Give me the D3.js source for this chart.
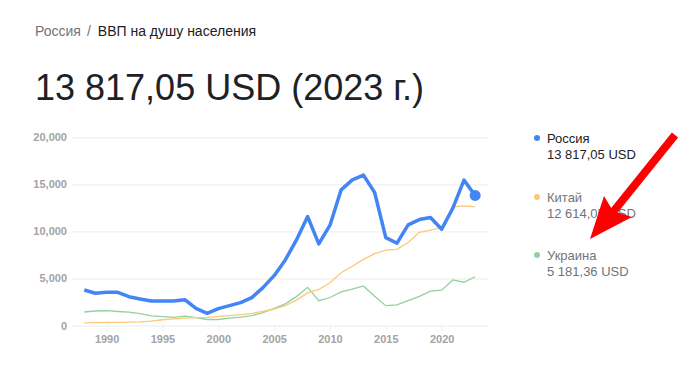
<!DOCTYPE html>
<html>
<head>
<meta charset="utf-8">
<script src="https://cdn.jsdelivr.net/npm/d3@7"></script>
<style>
  body { margin: 0; background: #fff; font-family: Arial, "Liberation Sans", sans-serif; }
  svg text { font-family: Arial, "Liberation Sans", sans-serif; }
</style>
</head>
<body>
<div id="chart"></div>
<script>
// years on the x axis
const years = d3.range(1988, 2024);

// ВВП на душу населения, USD
const russia = [3777, 3426, 3530, 3530, 3064, 2820, 2607, 2607, 2600, 2745,
  1830, 1298, 1788, 2107, 2426, 2958, 4021, 5298, 6968, 9096,
  11575, 8671, 10660, 14417, 15481, 15981, 14130, 9343, 8745, 10692,
  11258, 11471, 10234, 12470, 15448, 13817];
const china = [283, 310, 318, 333, 366, 377, 473, 609, 709, 781,
  828, 873, 959, 1053, 1149, 1289, 1509, 1753, 2099, 2694,
  3468, 3832, 4550, 5614, 6301, 7020, 7636, 8016, 8094, 8817,
  9905, 10144, 10409, 12618, 12720, 12614];
const ukraine = [1436, 1543, 1570, 1490, 1418, 1258, 1012, 936, 873, 993,
  835, 636, 636, 781, 880, 1049, 1367, 1829, 2303, 3069,
  4060, 2638, 2974, 3570, 3855, 4202, 3105, 2107, 2188, 2641,
  3097, 3662, 3751, 4840, 4596, 5181];

const yTicks = [0, 5000, 10000, 15000, 20000];
const xTicks = [1990, 1995, 2000, 2005, 2010, 2015, 2020];

const legendItems = [
  {name: "Россия", value: "13 817,05 USD", color: "#4285f4", text: "#202124"},
  {name: "Китай", value: "12 614,05 USD", color: "#fbc977", text: "#70757a"},
  {name: "Украина", value: "5 181,36 USD", color: "#93d0a0", text: "#70757a"}
];

const width = 693, height = 390;
const svg = d3.select("#chart").append("svg")
  .attr("width", width)
  .attr("height", height);

// header
const crumb = svg.append("text").attr("x", 35).attr("y", 36).attr("font-size", 14);
crumb.append("tspan").attr("fill", "#70757a").text("Россия");
crumb.append("tspan").attr("fill", "#70757a").attr("dx", 6).text("/");
crumb.append("tspan").attr("fill", "#202124").attr("dx", 7).text("ВВП на душу населения");

svg.append("text")
  .attr("x", 35).attr("y", 100)
  .attr("font-size", 36)
  .attr("fill", "#202124")
  .text("13 817,05 USD (2023 г.)");

// scales
const x = d3.scaleLinear().domain([1986.9, 2024.15]).range([72, 488]);
const y = d3.scaleLinear().domain([0, 20000]).range([325.5, 137.3]);

// grid + y labels
const yAxis = d3.axisLeft(y).tickValues(yTicks).tickSize(-(488 - 72))
  .tickFormat(d3.format(","));
svg.append("g")
  .attr("transform", "translate(72,0)")
  .call(yAxis)
  .call(g => g.select(".domain").remove())
  .call(g => g.selectAll("line").attr("stroke", "#ebebeb"))
  .call(g => g.selectAll("text").attr("x", -5).attr("fill", "#a3a3a3")
    .attr("font-size", 11).attr("font-weight", "bold"));

// x axis
const xAxis = d3.axisBottom(x).tickValues(xTicks).tickSize(5).tickPadding(5)
  .tickFormat(d3.format("d"));
svg.append("g")
  .attr("transform", `translate(0,${y(0)})`)
  .call(xAxis)
  .call(g => g.select(".domain").remove())
  .call(g => g.selectAll("line").attr("stroke", "#ebebeb"))
  .call(g => g.selectAll("text").attr("fill", "#a3a3a3")
    .attr("font-size", 11).attr("font-weight", "bold"));

const line = d3.line().x((d, i) => x(years[i])).y(d => y(d));

svg.append("path").datum(ukraine)
  .attr("fill", "none").attr("stroke", legendItems[2].color).attr("stroke-width", 1.3)
  .attr("d", line);
svg.append("path").datum(china)
  .attr("fill", "none").attr("stroke", legendItems[1].color).attr("stroke-width", 1.3)
  .attr("d", line);
svg.append("path").datum(russia)
  .attr("fill", "none").attr("stroke", legendItems[0].color).attr("stroke-width", 3.5)
  .attr("stroke-linejoin", "round")
  .attr("d", line);

// end dot
svg.append("circle")
  .attr("cx", x(years[years.length - 1]))
  .attr("cy", y(russia[russia.length - 1]))
  .attr("r", 5.5)
  .attr("fill", legendItems[0].color);

// legend
const leg = svg.append("g").selectAll("g")
  .data(legendItems)
  .join("g")
  .attr("transform", (d, i) => `translate(537,${[138, 197, 255][i]})`);
leg.append("circle").attr("r", 3).attr("fill", d => d.color);
leg.append("text").attr("x", 10).attr("y", 4.5).attr("font-size", 13)
  .attr("fill", d => d.text).text(d => d.name);
leg.append("text").attr("x", 10).attr("y", 20.5).attr("font-size", 13)
  .attr("fill", d => d.text).text(d => d.value);

// red annotation arrow
svg.append("line")
  .attr("x1", 675).attr("y1", 135).attr("x2", 605).attr("y2", 222)
  .attr("stroke", "#ff0000").attr("stroke-width", 8);
svg.append("path")
  .attr("d", "M590,239 L604,196 L613,211 L632,217 Z")
  .attr("fill", "#ff0000");
</script>
</body>
</html>
